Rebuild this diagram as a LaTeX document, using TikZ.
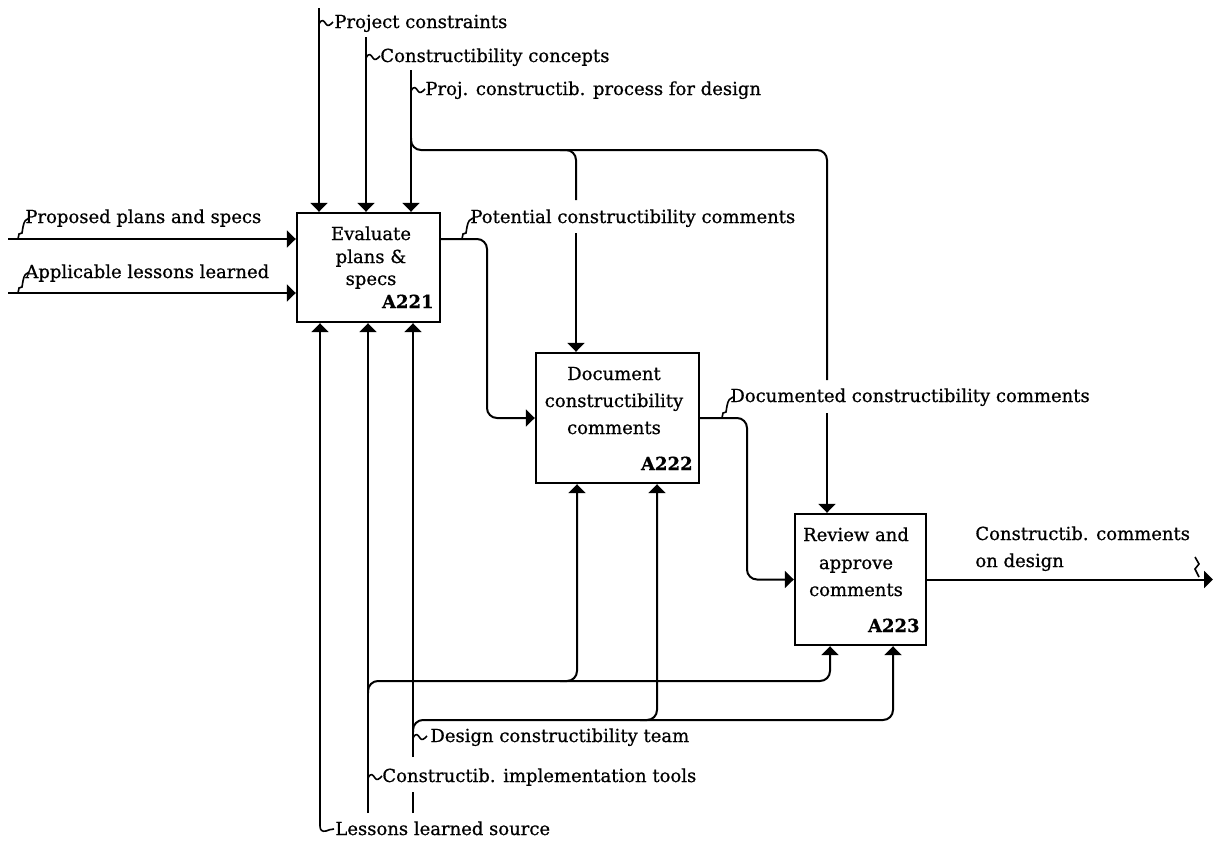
\documentclass[tikz,border=0pt]{standalone}
\usepackage{fontspec}
\setmainfont[FakeBold=0.7,BoldFeatures={FakeBold=0.5}]{DejaVu Serif}
\usetikzlibrary{arrows.meta,calc}
\begin{document}
\begin{tikzpicture}[x=0.5pt,y=-0.5pt,
  every node/.style={font=\fontsize{9pt}{11pt}\selectfont, inner sep=0pt},
  box/.style={draw, line width=1.2pt, rectangle, inner sep=0pt},
  conn/.style={line width=1pt, rounded corners=5pt},
  arr/.style={conn, -{Triangle[width=8.5pt,length=4.5pt]}},
  lbl/.style={anchor=base west},
  ctr/.style={anchor=base},
  num/.style={anchor=base east, font=\fontsize{9pt}{11pt}\selectfont\bfseries},
  sq/.style={line width=0.8pt},
  tl/.pic={\draw[sq] (0,0) .. controls (3,-6) and (5,-3) .. (7,0) .. controls (9,3) and (11,1) .. (14,-2);},
  sj/.pic={\draw[sq] (0,0) -- (1,-5) -- (4,-6) -- (5,-12) .. controls (6,-18) and (8,-20) .. (11,-21);},
]
\useasboundingbox (0,0) rectangle (1215,841);

% boxes
\node[box, minimum width=71.5pt, minimum height=54.5pt] (A221) at (368.5,267.5) {};
\node[box, minimum width=81.5pt, minimum height=65pt] (A222) at (617.5,418) {};
\node[box, minimum width=65.5pt, minimum height=65.5pt] (A223) at (860.5,579.5) {};

% box texts
\node[ctr] (t1a) at (371,240) {Evaluate};
\node[ctr] (t1b) at (371,263) {plans \&};
\node[ctr] (t1c) at (371,285) {specs};
\node[num] (n1) at (434,308) {A221};
\node[ctr] (t2a) at (614,380) {Document};
\node[ctr] (t2b) at (614,407) {constructibility};
\node[ctr] (t2c) at (614,434) {comments};
\node[num] (n2) at (693,470) {A222};
\node[ctr] (t3a) at (856,541) {Review and};
\node[ctr] (t3b) at (856,569) {approve};
\node[ctr] (t3c) at (856,596) {comments};
\node[num] (n3) at (920,632) {A223};

% coordinates
\coordinate (pc) at (319,8);
\coordinate (cc) at (366,37);
\coordinate (pp) at (411,70);
\coordinate (pps) at (411,138);
\coordinate (ppj) at (411,150);
\coordinate (ppr) at (827,150);
\coordinate (g3) at (827,380);
\coordinate (g4) at (827,413);
\coordinate (b2a) at (560,150);
\coordinate (b2) at (576,150);
\coordinate (g1) at (576,200);
\coordinate (g2) at (576,233);
\coordinate (i1) at (8,239);
\coordinate (i2) at (8,293);
\coordinate (o1) at (487,239);
\coordinate (o1b) at (487,418);
\coordinate (o2) at (747,418);
\coordinate (o2b) at (747,579.5);
\coordinate (o3) at (1213,579.5);
\coordinate (m1) at (320,826);
\coordinate (m2) at (368,813);
\coordinate (m3) at (413,813);
\coordinate (m3g1) at (413,792);
\coordinate (m3g2) at (413,757);
\coordinate (j1s) at (368,693);
\coordinate (j1) at (368,681);
\coordinate (j1r) at (830,681);
\coordinate (k1a) at (560,681);
\coordinate (k1) at (577,681);
\coordinate (j2s) at (413,732);
\coordinate (j2) at (413,720);
\coordinate (j2r) at (893,720);
\coordinate (k2a) at (640,720);
\coordinate (k2) at (657,720);

% controls
\draw[arr] (pc) -- (pc |- A221.north);
\draw[arr] (cc) -- (cc |- A221.north);
\draw[arr] (pp) -- (pp |- A221.north);
\draw[conn] (pps) -- (ppj) -- (ppr) -- (g3);
\draw[arr] (g4) -- (g4 |- A223.north);
\draw[conn] (b2a) -- (b2) -- (g1);
\draw[arr] (g2) -- (g2 |- A222.north);

% inputs
\draw[arr] (i1) -- (i1 -| A221.west);
\draw[arr] (i2) -- (i2 -| A221.west);

% outputs
\draw[arr] (o1 -| A221.east) -- (o1) -- (o1b) -- (A222.west);
\draw[arr] (A222.east) -- (o2) -- (o2b) -- (A223.west);
\draw[arr] (A223.east) -- (o3);

% mechanisms
\draw[arr] (m1) -- (m1 |- A221.south);
\draw[arr] (m2) -- (m2 |- A221.south);
\draw[conn] (m3) -- (m3g1);
\draw[arr] (m3g2) -- (m3g2 |- A221.south);
\draw[arr] (j1s) -- (j1) -- (j1r) -- (j1r |- A223.south);
\draw[arr] (k1a) -- (k1) -- (k1 |- A222.south);
\draw[arr] (j2s) -- (j2) -- (j2r) -- (j2r |- A223.south);
\draw[arr] (k2a) -- (k2) -- (k2 |- A222.south);

% labels
\node[lbl] (lpc) at (334,28) {Project constraints};
\node[lbl] (lcc) at (380,62) {Constructibility concepts};
\node[lbl] (lpp) at (425,95) {Proj. constructib. process for design};
\node[lbl] (li1) at (25,223) {Proposed plans and specs};
\node[lbl] (li2) at (25,278) {Applicable lessons learned};
\node[lbl] (lo1) at (470,223) {Potential constructibility comments};
\node[lbl] (lo2) at (730,402) {Documented constructibility comments};
\node[lbl] (lo3a) at (975,540) {Constructib. comments};
\node[lbl] (lo3b) at (975,567) {on design};
\node[lbl] (lm3) at (430,742) {Design constructibility team};
\node[lbl] (lm2) at (382,782) {Constructib. implementation tools};
\node[lbl] (lm1) at (335,835) {Lessons learned source};

% squiggles
\pic at (319,24) {tl};
\pic at (366,58) {tl};
\pic at (411,91) {tl};
\pic at (413,738) {tl};
\pic at (368,778) {tl};
\draw[sq] (m1) .. controls (320,830) and (322,832) .. (326,831) .. controls (329,829) and (331,830) .. (334,829);
\pic at (18,239) {sj};
\pic at (18,293) {sj};
\pic at (462,239) {sj};
\pic at (722,418) {sj};
\draw[sq] (1195,557) -- (1199,564) -- (1195,569) -- (1199,577);
\end{tikzpicture}
\end{document}
